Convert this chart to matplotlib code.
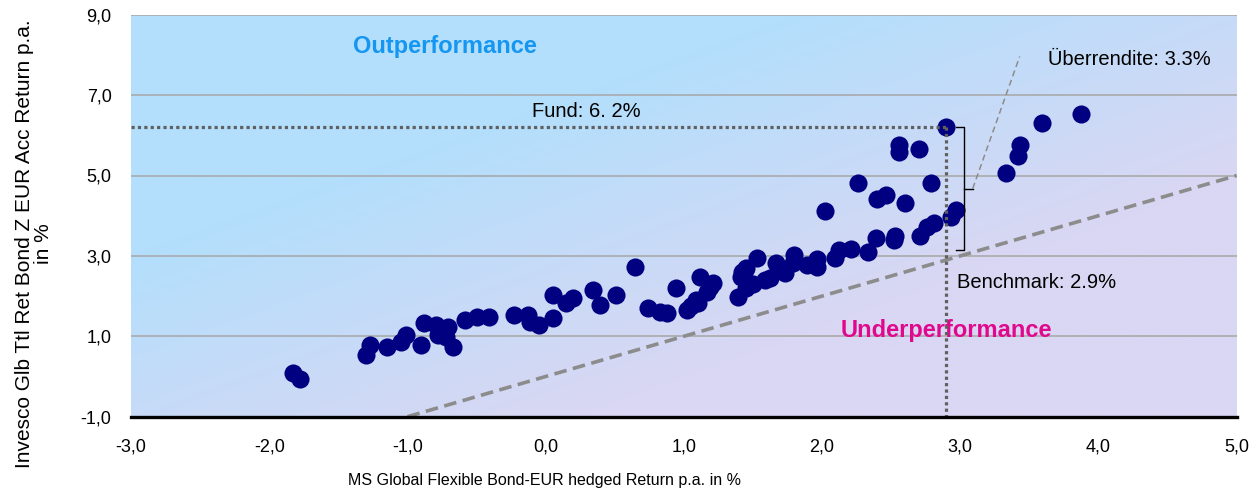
import numpy as np
import matplotlib.pyplot as plt
from matplotlib.ticker import FuncFormatter

plt.rcParams['font.family'] = ['Liberation Sans', 'DejaVu Sans']

# benchmark return (x) vs fund return (y), p.a. in %
bench_ret = [-1.83, -1.78, -1.30, -1.27, -1.15, -1.05, -1.01, -0.90, -0.88, -0.79,
             -0.71, -0.78, -0.72, -0.67, -0.58, -0.50, -0.41, -0.23, -0.13, -0.11,
             -0.05, 0.05, 0.05, 0.15, 0.20, 0.34, 0.39, 0.51, 0.65, 0.74,
             0.83, 0.88, 0.94, 1.02, 1.05, 1.09, 1.10, 1.12, 1.19, 1.21,
             1.39, 1.41, 1.44, 1.45, 1.53, 1.59, 1.67, 1.72, 1.79, 1.80,
             1.96, 1.96, 2.09, 2.12, 2.21, 2.33, 2.39, 2.52, 2.53, 2.71,
             2.76, 2.81, 2.93, 2.97, 2.60, 2.40, 2.46, 2.02, 2.26, 2.79,
             2.56, 2.56, 2.70, 3.33, 3.42, 3.43, 3.59, 3.87,
             1.17, 1.45, 1.50, 1.62, 1.73, 1.89, 1.42]
fund_ret = [0.08, -0.05, 0.53, 0.78, 0.74, 0.87, 1.03, 0.78, 1.32, 1.28,
            1.24, 1.03, 0.99, 0.74, 1.41, 1.49, 1.49, 1.53, 1.53, 1.36,
            1.28, 1.45, 2.03, 1.82, 1.95, 2.15, 1.78, 2.03, 2.73, 1.70,
            1.61, 1.57, 2.19, 1.65, 1.75, 1.90, 1.82, 2.48, 2.23, 2.32,
            1.99, 2.48, 2.65, 2.69, 2.94, 2.40, 2.82, 2.65, 2.82, 3.02,
            2.92, 2.73, 2.94, 3.15, 3.16, 3.10, 3.44, 3.40, 3.50, 3.50,
            3.73, 3.81, 3.98, 4.14, 4.31, 4.41, 4.52, 4.11, 4.82, 4.81,
            5.76, 5.59, 5.65, 5.05, 5.49, 5.76, 6.30, 6.53,
            2.11, 2.19, 2.30, 2.45, 2.57, 2.77, 2.61]

fund_x = 2.9   # benchmark
fund_y = 6.2   # fund
brace_low = 3.15

xticks = [-3, -2, -1, 0, 1, 2, 3, 4, 5]
yticks = [-1, 1, 3, 5, 7, 9]

fig = plt.figure(figsize=(12.55, 4.91), dpi=100)
ax = fig.add_axes([131/1255, 1 - 416.7/491, (1236.7-131)/1255, (416.7-14.7)/491])
ax.set_xlim(-3, 5)
ax.set_ylim(-1, 9)

# background gradient blue -> lavender
u = np.linspace(0, 1, 400)
v = np.linspace(1, 0, 200)
U, V = np.meshgrid(u, v)
t = (U + (1 - V)) / 2
w = np.clip((t - 0.3) / 0.4, 0, 1)[..., None]
blue = np.array([179, 223, 252]) / 255
lav = np.array([217, 215, 243]) / 255
img = blue * (1 - w) + lav * w
ax.imshow(img, extent=[0, 1, 0, 1], transform=ax.transAxes, aspect='auto', zorder=0)

for yy in yticks[1:]:
    ax.axhline(yy, color='#a6a6a6', lw=1.1, zorder=1)
ax.axhline(-1, color='black', lw=2.4, zorder=6, clip_on=False)

ax.axline((0, 0), slope=1, color='#8c8c8c', lw=2.6, ls=(0, (3.5, 1.8)), zorder=2)

ax.scatter(bench_ret, fund_ret, s=170, color='#000080', lw=0, zorder=3)
ax.scatter([fund_x], [fund_y], s=170, color='#000080', lw=0, zorder=3)

# dotted guide lines
ax.plot([-3, fund_x], [fund_y, fund_y], color='#606060', lw=2.3, ls=(0, (1, 1)), zorder=5)
ax.plot([fund_x, fund_x], [fund_y, -1], color='#606060', lw=2.3, ls=(0, (1, 1)), zorder=5)

# brace for excess return
bx0, bx1, bx2 = fund_x + 0.07, fund_x + 0.13, fund_x + 0.19
mid = (fund_y + brace_low) / 2
ax.plot([bx0, bx1, bx1, bx0], [fund_y, fund_y, brace_low, brace_low], color='black', lw=1.0, zorder=5)
ax.plot([bx1, bx2], [mid, mid], color='black', lw=1.0, zorder=5)
ax.plot([bx2, 3.43], [mid, 7.96], color='#8c8c8c', lw=1.1, ls=(0, (4, 2.5)), zorder=5)

ax.text(-0.73, 8.04, 'Outperformance', color='#1596f0', fontsize=17, fontweight='bold',
        ha='center', va='baseline', zorder=4)
ax.text(2.90, 0.975, 'Underperformance', color='#e0088c', fontsize=17, fontweight='bold',
        ha='center', va='baseline', zorder=4)
ax.text(0.297, 6.46, 'Fund: 6. 2%', fontsize=14.5, ha='center', va='baseline', zorder=4)
ax.text(4.22, 7.75, 'Überrendite: 3.3%', fontsize=14.5, ha='center', va='baseline', zorder=4)
ax.text(2.975, 2.19, 'Benchmark: 2.9%', fontsize=14.5, ha='left', va='baseline', zorder=4)

fmt = FuncFormatter(lambda val, pos: f'{val:.1f}'.replace('.', ','))
ax.set_xticks(xticks)
ax.set_yticks(yticks)
ax.xaxis.set_major_formatter(fmt)
ax.yaxis.set_major_formatter(fmt)
ax.tick_params(axis='both', length=0, labelsize=13)
ax.tick_params(axis='x', pad=16)
ax.tick_params(axis='y', pad=14)
for s in ax.spines.values():
    s.set_visible(False)

fig.text(545/1255, 1 - 481/491, 'MS Global Flexible Bond-EUR hedged Return p.a. in %',
         fontsize=11.5, ha='center', va='center')
fig.text(34/1255, 1 - 244/491, 'Invesco Glb Ttl Ret Bond Z EUR Acc Return p.a.\nin %',
         fontsize=15, rotation=90, ha='center', va='center', multialignment='center',
         linespacing=0.95)

fig.savefig('out.png', dpi=100)
